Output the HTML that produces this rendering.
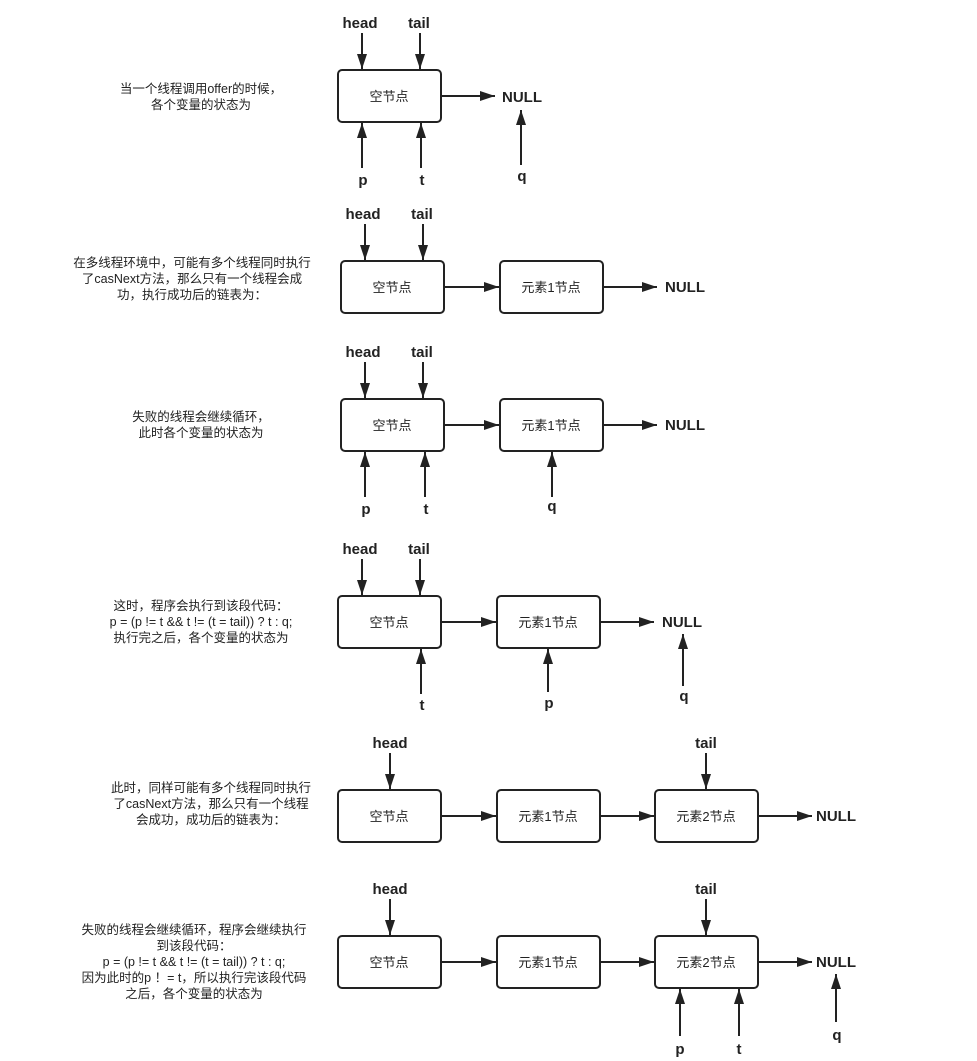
<!DOCTYPE html>
<html><head><meta charset="utf-8"><style>
html,body{margin:0;padding:0;background:#fff;}
svg{display:block;}
.b{fill:#fff;stroke:#222;stroke-width:2;}
.l{stroke:#222;stroke-width:2;fill:none;}
.bt{font-family:"Liberation Sans","Noto Sans CJK SC",sans-serif;font-weight:bold;font-size:15px;fill:#222;}
.nt{font-family:"Liberation Sans","Noto Sans CJK SC",sans-serif;font-size:13px;fill:#222;}
.lt{font-family:"Liberation Sans","Noto Sans CJK SC",sans-serif;font-size:12.5px;fill:#222;}
</style></head><body>
<svg width="977" height="1061" viewBox="0 0 977 1061" xmlns="http://www.w3.org/2000/svg">
<defs><marker id="a" markerUnits="userSpaceOnUse" markerWidth="16" markerHeight="12" refX="15" refY="5" orient="auto"><path d="M0,0 L15,5 L0,10 Z" fill="#222"/></marker></defs>
<g text-anchor="middle">
<!-- S1 -->
<text class="lt" x="201" y="93">当一个线程调用offer的时候，</text>
<text class="lt" x="201" y="109">各个变量的状态为</text>
<rect class="b" x="338" y="70" width="103" height="52" rx="4"/><text class="nt" x="389" y="101">空节点</text>
<text class="bt" x="360" y="28">head</text><line class="l" x1="362" y1="33" x2="362" y2="69" marker-end="url(#a)"/>
<text class="bt" x="419" y="28">tail</text><line class="l" x1="420" y1="33" x2="420" y2="69" marker-end="url(#a)"/>
<line class="l" x1="362" y1="168" x2="362" y2="123" marker-end="url(#a)"/><text class="bt" x="363" y="185">p</text>
<line class="l" x1="421" y1="168" x2="421" y2="123" marker-end="url(#a)"/><text class="bt" x="422" y="185">t</text>
<line class="l" x1="441" y1="96" x2="495" y2="96" marker-end="url(#a)"/><text class="bt" x="522" y="102">NULL</text>
<line class="l" x1="521" y1="165" x2="521" y2="110" marker-end="url(#a)"/><text class="bt" x="522" y="181">q</text>
<!-- S2 -->
<text class="lt" x="192" y="267">在多线程环境中，可能有多个线程同时执行</text>
<text class="lt" x="192" y="283">了casNext方法，那么只有一个线程会成</text>
<text class="lt" x="192" y="299">功，执行成功后的链表为：</text>
<rect class="b" x="341" y="261" width="103" height="52" rx="4"/><text class="nt" x="392" y="292">空节点</text>
<rect class="b" x="500" y="261" width="103" height="52" rx="4"/><text class="nt" x="551" y="292">元素1节点</text>
<text class="bt" x="363" y="219">head</text><line class="l" x1="365" y1="224" x2="365" y2="260" marker-end="url(#a)"/>
<text class="bt" x="422" y="219">tail</text><line class="l" x1="423" y1="224" x2="423" y2="260" marker-end="url(#a)"/>
<line class="l" x1="444" y1="287" x2="499" y2="287" marker-end="url(#a)"/>
<line class="l" x1="603" y1="287" x2="657" y2="287" marker-end="url(#a)"/><text class="bt" x="685" y="292">NULL</text>
<!-- S3 -->
<text class="lt" x="201" y="421">失败的线程会继续循环，</text>
<text class="lt" x="201" y="437">此时各个变量的状态为</text>
<rect class="b" x="341" y="399" width="103" height="52" rx="4"/><text class="nt" x="392" y="430">空节点</text>
<rect class="b" x="500" y="399" width="103" height="52" rx="4"/><text class="nt" x="551" y="430">元素1节点</text>
<text class="bt" x="363" y="357">head</text><line class="l" x1="365" y1="362" x2="365" y2="398" marker-end="url(#a)"/>
<text class="bt" x="422" y="357">tail</text><line class="l" x1="423" y1="362" x2="423" y2="398" marker-end="url(#a)"/>
<line class="l" x1="444" y1="425" x2="499" y2="425" marker-end="url(#a)"/>
<line class="l" x1="603" y1="425" x2="657" y2="425" marker-end="url(#a)"/><text class="bt" x="685" y="430">NULL</text>
<line class="l" x1="365" y1="497" x2="365" y2="452" marker-end="url(#a)"/><text class="bt" x="366" y="514">p</text>
<line class="l" x1="425" y1="497" x2="425" y2="452" marker-end="url(#a)"/><text class="bt" x="426" y="514">t</text>
<line class="l" x1="552" y1="497" x2="552" y2="452" marker-end="url(#a)"/><text class="bt" x="552" y="511">q</text>
<!-- S4 -->
<text class="lt" x="201" y="610">这时，程序会执行到该段代码：</text>
<text class="lt" x="201" y="626">p = (p != t &amp;&amp; t != (t = tail)) ? t : q;</text>
<text class="lt" x="201" y="642">执行完之后，各个变量的状态为</text>
<rect class="b" x="338" y="596" width="103" height="52" rx="4"/><text class="nt" x="389" y="627">空节点</text>
<rect class="b" x="497" y="596" width="103" height="52" rx="4"/><text class="nt" x="548" y="627">元素1节点</text>
<text class="bt" x="360" y="554">head</text><line class="l" x1="362" y1="559" x2="362" y2="595" marker-end="url(#a)"/>
<text class="bt" x="419" y="554">tail</text><line class="l" x1="420" y1="559" x2="420" y2="595" marker-end="url(#a)"/>
<line class="l" x1="441" y1="622" x2="496" y2="622" marker-end="url(#a)"/>
<line class="l" x1="600" y1="622" x2="654" y2="622" marker-end="url(#a)"/><text class="bt" x="682" y="627">NULL</text>
<line class="l" x1="421" y1="694" x2="421" y2="649" marker-end="url(#a)"/><text class="bt" x="422" y="710">t</text>
<line class="l" x1="548" y1="692" x2="548" y2="649" marker-end="url(#a)"/><text class="bt" x="549" y="708">p</text>
<line class="l" x1="683" y1="686" x2="683" y2="634" marker-end="url(#a)"/><text class="bt" x="684" y="701">q</text>
<!-- S5 -->
<text class="lt" x="211" y="792">此时，同样可能有多个线程同时执行</text>
<text class="lt" x="211" y="808">了casNext方法，那么只有一个线程</text>
<text class="lt" x="211" y="824">会成功，成功后的链表为：</text>
<rect class="b" x="338" y="790" width="103" height="52" rx="4"/><text class="nt" x="389" y="821">空节点</text>
<rect class="b" x="497" y="790" width="103" height="52" rx="4"/><text class="nt" x="548" y="821">元素1节点</text>
<rect class="b" x="655" y="790" width="103" height="52" rx="4"/><text class="nt" x="706" y="821">元素2节点</text>
<text class="bt" x="390" y="748">head</text><line class="l" x1="390" y1="753" x2="390" y2="789" marker-end="url(#a)"/>
<text class="bt" x="706" y="748">tail</text><line class="l" x1="706" y1="753" x2="706" y2="789" marker-end="url(#a)"/>
<line class="l" x1="441" y1="816" x2="496" y2="816" marker-end="url(#a)"/>
<line class="l" x1="600" y1="816" x2="654" y2="816" marker-end="url(#a)"/>
<line class="l" x1="758" y1="816" x2="812" y2="816" marker-end="url(#a)"/><text class="bt" x="836" y="821">NULL</text>
<!-- S6 -->
<text class="lt" x="194" y="934">失败的线程会继续循环，程序会继续执行</text>
<text class="lt" x="194" y="950">到该段代码：</text>
<text class="lt" x="194" y="966">p = (p != t &amp;&amp; t != (t = tail)) ? t : q;</text>
<text class="lt" x="194" y="982">因为此时的p ！= t，所以执行完该段代码</text>
<text class="lt" x="194" y="998">之后，各个变量的状态为</text>
<rect class="b" x="338" y="936" width="103" height="52" rx="4"/><text class="nt" x="389" y="967">空节点</text>
<rect class="b" x="497" y="936" width="103" height="52" rx="4"/><text class="nt" x="548" y="967">元素1节点</text>
<rect class="b" x="655" y="936" width="103" height="52" rx="4"/><text class="nt" x="706" y="967">元素2节点</text>
<text class="bt" x="390" y="894">head</text><line class="l" x1="390" y1="899" x2="390" y2="935" marker-end="url(#a)"/>
<text class="bt" x="706" y="894">tail</text><line class="l" x1="706" y1="899" x2="706" y2="935" marker-end="url(#a)"/>
<line class="l" x1="441" y1="962" x2="496" y2="962" marker-end="url(#a)"/>
<line class="l" x1="600" y1="962" x2="654" y2="962" marker-end="url(#a)"/>
<line class="l" x1="758" y1="962" x2="812" y2="962" marker-end="url(#a)"/><text class="bt" x="836" y="967">NULL</text>
<line class="l" x1="680" y1="1036" x2="680" y2="989" marker-end="url(#a)"/><text class="bt" x="680" y="1054">p</text>
<line class="l" x1="739" y1="1036" x2="739" y2="989" marker-end="url(#a)"/><text class="bt" x="739" y="1054">t</text>
<line class="l" x1="836" y1="1022" x2="836" y2="974" marker-end="url(#a)"/><text class="bt" x="837" y="1040">q</text>
</g>
</svg>
</body></html>
